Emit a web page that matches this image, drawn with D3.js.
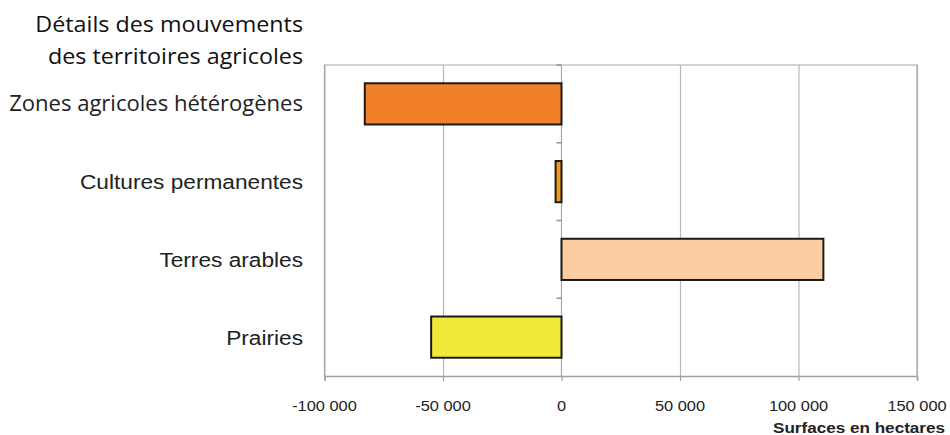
<!DOCTYPE html>
<html><head><meta charset="utf-8">
<script src="https://cdn.jsdelivr.net/npm/d3@7"></script>
<style>body{margin:0;background:#fff}</style>
</head><body><svg id="c" width="950" height="435"></svg>
<script>
const categories = ["Zones agricoles hétérogènes","Cultures permanentes","Terres arables","Prairies"];
const values = [-83000,-2500,110500,-55000];
const colors = ["#F28029","#F39A1E","#FCCDA2","#F0E938"];
const tickValues = [-100000,-50000,0,50000,100000,150000];
const titleLines = ["Détails des mouvements","des territoires agricoles"];
const axisTitle = "Surfaces en hectares";

const svg = d3.select("#c");
const m = {left:324.5, right:917, top:65, bottom:376};
const x = d3.scaleLinear().domain([-100000,150000]).range([m.left,m.right]);
const y = d3.scaleBand().domain(categories).range([m.top,m.bottom]).paddingInner(0.47).paddingOuter(0.235);
const yb = d3.scaleBand().domain(categories).range([m.top,m.bottom]);
const fmt = d => d3.format(",")(d).replace(/,/g," ").replace("−","-");

// grid
svg.append("g").selectAll("line").data(tickValues.filter(d=>d!==0)).join("line")
  .attr("x1",d=>x(d)+0.5).attr("x2",d=>x(d)+0.5).attr("y1",m.top).attr("y2",m.bottom)
  .attr("stroke","#b8b8b8").attr("stroke-width",1.2);
svg.append("path").attr("d",`M${m.left},${m.bottom}V${m.top}H${m.right}V${m.bottom}`)
  .attr("fill","none").attr("stroke","#a8a8a8").attr("stroke-width",1.2);

// bottom axis
const ax = svg.append("g").attr("transform",`translate(0,${m.bottom})`)
  .call(d3.axisBottom(x).tickValues(tickValues).tickSize(5).tickFormat(""));
ax.select(".domain").attr("stroke","#a0a0a0").attr("stroke-width",1.5);
ax.selectAll(".tick line").attr("stroke","#a0a0a0").attr("stroke-width",1.2);
svg.append("g").selectAll("text").data(tickValues).join("text")
  .attr("transform",d=>`translate(${x(d)},${m.bottom+35}) scale(1.13,1)`)
  .attr("text-anchor","middle").attr("font-family","Liberation Sans, Arial, sans-serif")
  .attr("font-size",14.5).attr("fill","#222").text(fmt);

// zero axis line with category ticks
svg.append("line").attr("x1",x(0)).attr("x2",x(0)).attr("y1",m.top).attr("y2",m.bottom)
  .attr("stroke","#a8a8a8").attr("stroke-width",1.2);
svg.append("g").selectAll("line").data(categories).join("line")
  .attr("x1",x(0)-5).attr("x2",x(0)).attr("y1",d=>yb(d)).attr("y2",d=>yb(d))
  .attr("stroke","#909090").attr("stroke-width",1.5);

// bars
svg.append("g").selectAll("rect").data(categories).join("rect")
  .attr("x",(d,i)=>x(Math.min(0,values[i])))
  .attr("width",(d,i)=>Math.abs(x(values[i])-x(0)))
  .attr("y",d=>y(d)).attr("height",y.bandwidth())
  .attr("fill",(d,i)=>colors[i]).attr("stroke","#1a1a1a").attr("stroke-width",2);

// category labels
svg.append("g").selectAll("text").data(categories).join("text")
  .attr("transform",(d,i)=>`translate(303,${yb(d)+yb.bandwidth()/2}) scale(${i===0?1.05:1.08},1)`)
  .attr("dy","0.36em").attr("text-anchor","end")
  .attr("font-family",(d,i)=>i===0?"Open Sans, sans-serif":"Liberation Sans, Arial, sans-serif")
  .attr("font-size",21).attr("fill","#222").text(d=>d);

// title
svg.append("g").selectAll("text").data(titleLines).join("text")
  .attr("transform",(d,i)=>`translate(303,${32+i*32}) scale(1.06,1)`).attr("text-anchor","end")
  .attr("font-family","Open Sans, sans-serif").attr("font-size",22).attr("fill","#111").text(d=>d);

// axis title
svg.append("text").attr("transform","translate(945,433) scale(1.18,1)").attr("text-anchor","end")
  .attr("font-family","Liberation Sans, Arial, sans-serif").attr("font-weight","bold")
  .attr("font-size",14.5).attr("fill","#222").text(axisTitle);
</script></body></html>
